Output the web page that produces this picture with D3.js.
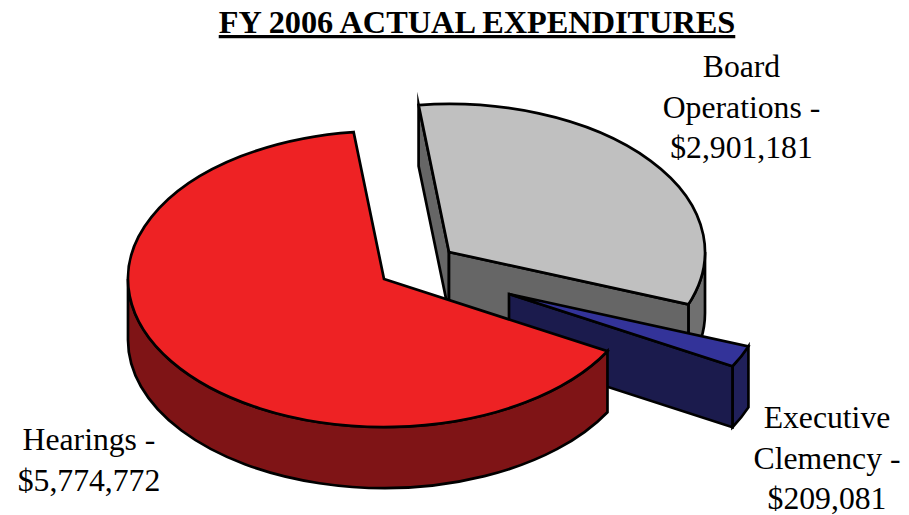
<!DOCTYPE html>
<html>
<head>
<meta charset="utf-8">
<script src="https://cdn.jsdelivr.net/npm/d3@7"></script>
<style>
  html, body { margin: 0; padding: 0; background: #fff; }
  svg { display: block; }
  text { font-family: "Liberation Serif", "Times New Roman", serif; fill: #000; }
</style>
</head>
<body>
<svg id="chart" width="909" height="515"></svg>
<script>
// Expenditure figures
const categories = ["Hearings", "Board Operations", "Executive Clemency"];
const amounts = [5774772, 2901181, 209081];
const chartTitle = "FY 2006 ACTUAL EXPENDITURES";
const labelLines = [
  ["Hearings -", "$5,774,772"],
  ["Board", "Operations -", "$2,901,181"],
  ["Executive", "Clemency -", "$209,081"]
];
const topColors = ["#ee2224", "#c0c0c0", "#333399"];
const sideColors = ["#7f1416", "#666666", "#1b1b4d"];
const rimColors = ["#7f1416", "#707070", "#20205a"];

// Layout of the tilted disc
const rx = 256, ry = 148, depth = 61;
const hubs = [[384, 279], [449, 252], [509, 294]];
const labelPos = [[89, 450], [741.5, 77], [827, 428]];
const lineGap = 40.5;
const deg = Math.PI / 180;

const svg = d3.select("#chart");
const slices = d3.pie().sort(null)
  .startAngle(119.2 * deg)
  .endAngle(119.2 * deg + 2 * Math.PI)(amounts);

// Angle is measured clockwise from the back of the disc
const rimPoint = (hub, a, dy = 0) => [hub[0] + rx * Math.sin(a), hub[1] - ry * Math.cos(a) + dy];
const fmt = p => `${p[0].toFixed(2)},${p[1].toFixed(2)}`;

function arcTo(hub, a0, a1, dy) {
  const sweep = a1 > a0 ? 1 : 0;
  const large = Math.abs(a1 - a0) > Math.PI ? 1 : 0;
  return `A${rx},${ry} 0 ${large} ${sweep} ${fmt(rimPoint(hub, a1, dy))}`;
}

function topPath(hub, a0, a1) {
  return `M${fmt(hub)}L${fmt(rimPoint(hub, a0))}${arcTo(hub, a0, a1, 0)}Z`;
}

function rimPath(hub, a0, a1) {
  return `M${fmt(rimPoint(hub, a0))}${arcTo(hub, a0, a1, 0)}` +
    `L${fmt(rimPoint(hub, a1, depth))}${arcTo(hub, a1, a0, depth)}Z`;
}

function wallPath(hub, a) {
  const p = rimPoint(hub, a);
  const q = rimPoint(hub, a, depth);
  return `M${fmt(hub)}L${fmt(p)}L${fmt(q)}L${hub[0]},${hub[1] + depth}Z`;
}

const face = (d, fill) => svg.append("path")
  .attr("d", d)
  .attr("fill", fill)
  .attr("stroke", "#000")
  .attr("stroke-width", 2.7)
  .attr("stroke-linejoin", "miter")
  .attr("stroke-miterlimit", 12);

// Board Operations sits at the back, then the clemency wedge, then Hearings
{
  const s = slices[1], hub = hubs[1];
  face(wallPath(hub, s.startAngle), sideColors[1]);
  face(rimPath(hub, Math.PI / 2 + 2 * Math.PI, s.endAngle), rimColors[1]);
  face(wallPath(hub, s.endAngle), sideColors[1]);
  face(topPath(hub, s.startAngle, s.endAngle), topColors[1]);
}
{
  const s = slices[2], hub = hubs[2];
  face(rimPath(hub, s.startAngle, s.endAngle), rimColors[2]);
  face(wallPath(hub, s.endAngle), sideColors[2]);
  face(topPath(hub, s.startAngle, s.endAngle), topColors[2]);
}
{
  const s = slices[0], hub = hubs[0];
  face(rimPath(hub, s.startAngle, 1.5 * Math.PI), rimColors[0]);
  face(topPath(hub, s.startAngle, s.endAngle), topColors[0]);
}

// Title
svg.append("text")
  .attr("x", 477).attr("y", 33)
  .attr("text-anchor", "middle")
  .attr("font-size", 32.3)
  .attr("font-weight", "bold")
  .attr("text-decoration", "underline")
  .text(chartTitle);

// Slice labels
labelLines.forEach((lines, i) => {
  const t = svg.append("text")
    .attr("text-anchor", "middle")
    .attr("font-size", 31.7);
  lines.forEach((line, j) => {
    t.append("tspan")
      .attr("x", labelPos[i][0])
      .attr("y", labelPos[i][1] + j * lineGap)
      .text(line);
  });
});
</script>
</body>
</html>
